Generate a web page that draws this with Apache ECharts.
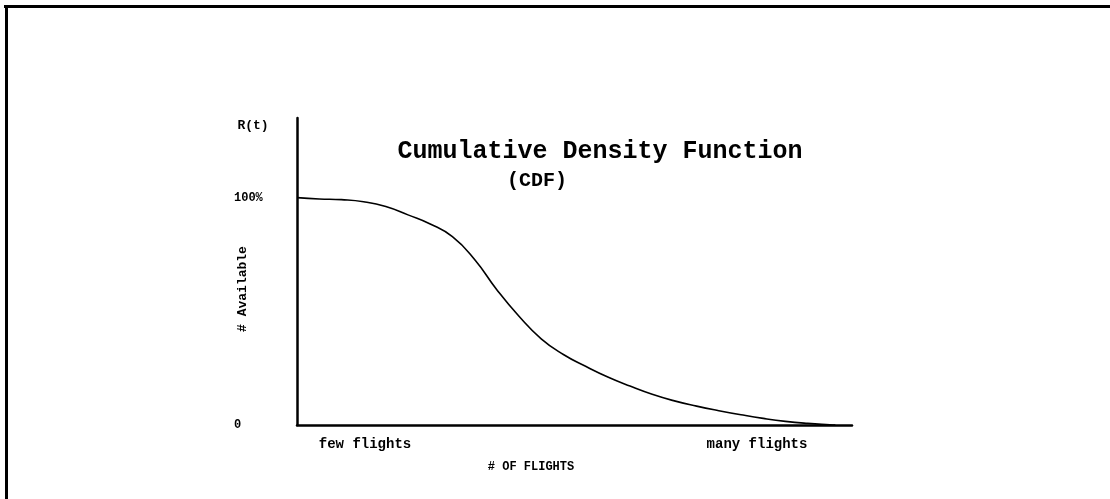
<!DOCTYPE html>
<html>
<head>
<meta charset="utf-8">
<script src="https://cdn.jsdelivr.net/npm/echarts@6/dist/echarts.min.js"></script>
<style>html,body{margin:0;padding:0;background:#fff}#c{width:1110px;height:499px}</style>
</head>
<body>
<div id="c"></div>
<script>
// Data (x: 0 = few flights, 100 = many flights; y: % available)
const xValues = [0, 4, 8, 12, 16, 20, 24, 28, 32, 36, 40, 44, 48, 52, 56, 60, 64, 68, 72, 76, 80, 84, 88, 92, 96, 97];
const yValues = [100, 99.4, 99.1, 98.2, 96.1, 92.4, 88.4, 82.8, 72.8, 59.5, 47.8, 37.9, 31.0, 25.8, 21.1, 17.1, 13.5, 10.6, 8.3, 6.3, 4.5, 2.9, 1.6, 0.7, 0.1, 0];
const yTickLabels = {0: '0', 100: '100%'};
const xCategoryLabels = ['few flights', 'many flights'];
const titleText = 'Cumulative Density Function';
const subtitleText = '(CDF)';
const xAxisTitle = '# OF FLIGHTS';
const yAxisTitle = '# Available';
const yUnitLabel = 'R(t)';

const chart = echarts.init(document.getElementById('c'), null, {renderer: 'canvas'});
const mono = '"Liberation Mono", "DejaVu Sans Mono", monospace';
const pts = xValues.map((x, i) => [x, yValues[i]]);

chart.setOption({
  backgroundColor: '#fff',
  animation: false,
  grid: {left: 297, right: 258, top: 118, bottom: 74},
  xAxis: {
    type: 'value', min: 0, max: 100,
    axisLine: {show: true, lineStyle: {color: '#000', width: 2.5}},
    axisTick: {show: false}, axisLabel: {show: false}, splitLine: {show: false}
  },
  yAxis: {
    type: 'value', min: 0, max: 135, interval: 100,
    axisLine: {show: true, lineStyle: {color: '#000', width: 2.5}},
    axisTick: {show: false}, splitLine: {show: false},
    axisLabel: {
      show: true, margin: 63, align: 'left', color: '#000', fontFamily: mono, fontWeight: 'bold', fontSize: 12,
      formatter: v => (yTickLabels[v] !== undefined ? yTickLabels[v] : ''),
      showMaxLabel: false
    }
  },
  series: [{
    type: 'line', data: pts, smooth: 0.5, showSymbol: false,
    lineStyle: {color: '#000', width: 1.6}
  }],
  graphic: [
    {type: 'rect', shape: {x: 4, y: 5, width: 1106, height: 3}, style: {fill: '#000'}},
    {type: 'rect', shape: {x: 5, y: 5, width: 3, height: 494}, style: {fill: '#000'}},
    {type: 'text', x: 600, y: 152, style: {text: titleText, font: 'bold 25px ' + mono, fill: '#000', textAlign: 'center', textVerticalAlign: 'middle'}},
    {type: 'text', x: 537, y: 181, style: {text: subtitleText, font: 'bold 20px ' + mono, fill: '#000', textAlign: 'center', textVerticalAlign: 'middle'}},
    {type: 'text', x: 253, y: 126, style: {text: yUnitLabel, font: 'bold 13px ' + mono, fill: '#000', textAlign: 'center', textVerticalAlign: 'middle'}},
    {type: 'text', x: 243, y: 289, rotation: Math.PI / 2, style: {text: yAxisTitle, font: 'bold 13px ' + mono, fill: '#000', textAlign: 'center', textVerticalAlign: 'middle'}},
    {type: 'text', x: 365, y: 444, style: {text: xCategoryLabels[0], font: 'bold 14px ' + mono, fill: '#000', textAlign: 'center', textVerticalAlign: 'middle'}},
    {type: 'text', x: 757, y: 444, style: {text: xCategoryLabels[1], font: 'bold 14px ' + mono, fill: '#000', textAlign: 'center', textVerticalAlign: 'middle'}},
    {type: 'text', x: 531, y: 467, style: {text: xAxisTitle, font: 'bold 12px ' + mono, fill: '#000', textAlign: 'center', textVerticalAlign: 'middle'}}
  ]
});
</script>
</body>
</html>
